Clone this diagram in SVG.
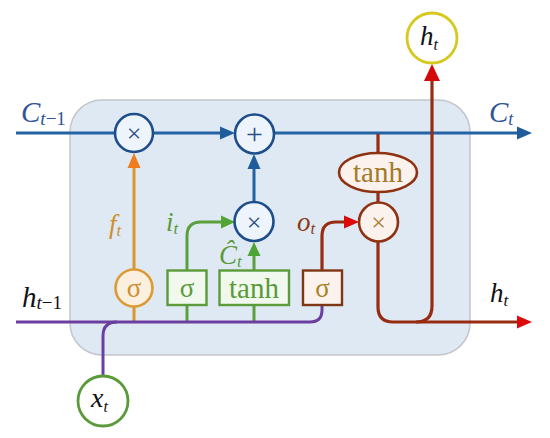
<svg xmlns="http://www.w3.org/2000/svg" width="550" height="438" viewBox="0 0 550 438">
<style>
.ctr{text-anchor:middle}
.blue{fill:none;stroke:#2363a3;stroke-width:3}
.orange{fill:none;stroke:#d9962e;stroke-width:3}
.green{fill:none;stroke:#5aa03c;stroke-width:3}
.purple{fill:none;stroke:#6c3ea0;stroke-width:3}
.brown{fill:none;stroke:#982c12;stroke-width:3.2}
.opc{stroke:#1d4d8a;stroke-width:2.6;fill:#eef4fb}
</style>
<defs>
<marker id="aBlue" markerUnits="userSpaceOnUse" markerWidth="16" markerHeight="14" refX="0" refY="7" orient="auto"><path d="M0,0.5 L15,7 L0,13.5 z" fill="#1f5c9c"/></marker>
<marker id="aOrange" markerUnits="userSpaceOnUse" markerWidth="16" markerHeight="14" refX="0" refY="7" orient="auto"><path d="M0,0.5 L15,7 L0,13.5 z" fill="#ef7d1c"/></marker>
<marker id="aGreen" markerUnits="userSpaceOnUse" markerWidth="16" markerHeight="14" refX="0" refY="7" orient="auto"><path d="M0,0.5 L14,7 L0,13.5 z" fill="#4ea534"/></marker>
<marker id="aRed" markerUnits="userSpaceOnUse" markerWidth="16" markerHeight="14" refX="0" refY="7" orient="auto"><path d="M0,0.5 L15,7 L0,13.5 z" fill="#dc0a0a"/></marker>
<marker id="aRedBig" markerUnits="userSpaceOnUse" markerWidth="18" markerHeight="18" refX="0" refY="8" orient="auto"><path d="M0,0 L17,8 L0,16 z" fill="#d40808"/></marker>
</defs>

<rect id="cell" x="70" y="100" width="400" height="255" rx="32" ry="32" fill="#dfe9f4" stroke="#c3c6cc" stroke-width="1.5"/>

<g id="connectors">
  <path class="blue" d="M16,133 L116,133" marker-end="url(#aBlue)"/>
  <path class="blue" d="M153,133 L220,133" marker-end="url(#aBlue)"/>
  <path class="blue" d="M274,133 L517,133" marker-end="url(#aBlue)"/>
  <path class="blue" d="M254,202 L254,169" marker-end="url(#aBlue)"/>
  <path class="orange" d="M134,269 L134,168" marker-end="url(#aOrange)"/>
  <path class="orange" d="M134,307 L134,322"/>
  <path class="green" d="M187,305 L187,322"/>
  <path class="green" d="M187,270 L187,236 Q187,222 201,222 L221,222" marker-end="url(#aGreen)"/>
  <path class="green" d="M254,270 L254,256" marker-end="url(#aGreen)"/>
  <path class="green" d="M254,305 L254,322"/>
  <path class="purple" d="M16,322 L310,322 Q322,322 322,310 L322,305"/>
  <path class="purple" d="M103,376 L103,336 Q103,322 117,322"/>
  <path class="brown" d="M322,270 L322,236 Q322,222 336,222 L344,222" marker-end="url(#aRed)"/>
  <path class="brown" d="M378,134 L378,153"/>
  <path class="brown" d="M378,192 L378,203"/>
  <path class="brown" d="M378,241 L378,307 Q378,322 393,322 L517,322" marker-end="url(#aRed)"/>
  <path class="brown" d="M416,322 Q432,322 432,306 L432,81" marker-end="url(#aRedBig)"/>
</g>

<g id="mul_f"><circle class="opc" cx="134" cy="133" r="19"/><text class="ctr" x="134" y="142" font-size="26" fill="#2b4f86" font-family="Liberation Serif, serif">×</text></g>
<g id="add_c"><circle class="opc" cx="254.5" cy="134" r="19.5"/><text class="ctr" x="254.5" y="143.5" font-size="30" fill="#2b4f86" font-family="Liberation Serif, serif">+</text></g>
<g id="mul_i"><circle class="opc" cx="254" cy="221.5" r="19.5"/><text class="ctr" x="254" y="230.5" font-size="26" fill="#2b4f86" font-family="Liberation Serif, serif">×</text></g>
<g id="mul_o"><circle cx="378.5" cy="222" r="19.5" fill="#fbf2ee" stroke="#8e3212" stroke-width="2.6"/><text class="ctr" x="378.5" y="231" font-size="26" fill="#b07c34" font-family="Liberation Serif, serif">×</text></g>

<g id="tanh_c"><ellipse cx="378" cy="172.5" rx="39" ry="19.5" fill="#fbf2ee" stroke="#8e3212" stroke-width="2.6"/><text class="ctr" x="378" y="181.5" font-size="29" fill="#a37a2a" font-family="Liberation Serif, serif">tanh</text></g>

<g id="sigma_f"><circle cx="134" cy="288" r="18.5" fill="#fbf0e0" stroke="#dc9b34" stroke-width="2.6"/><text class="ctr" x="134" y="296.5" font-size="27" fill="#d08e2c" font-family="Liberation Serif, serif">σ</text></g>
<g id="sigma_i"><rect x="167.5" y="270.5" width="39" height="34.5" fill="#f1f8ee" stroke="#5b9b3a" stroke-width="2.4"/><text class="ctr" x="187" y="296.5" font-size="27" fill="#5a9a3a" font-family="Liberation Serif, serif">σ</text></g>
<g id="tanh_i"><rect x="219.5" y="270.5" width="69.5" height="34.5" fill="#f1f8ee" stroke="#5b9b3a" stroke-width="2.4"/><text class="ctr" x="254" y="297.5" font-size="29" fill="#5a9a3a" font-family="Liberation Serif, serif">tanh</text></g>
<g id="sigma_o"><rect x="303" y="270.5" width="39" height="34.5" fill="#fbf2ee" stroke="#7e3614" stroke-width="2.4"/><text class="ctr" x="322.5" y="296.5" font-size="27" fill="#a88224" font-family="Liberation Serif, serif">σ</text></g>

<g id="x_t"><circle cx="103" cy="401" r="25" fill="#ffffff" stroke="#5a9a3a" stroke-width="2.8"/><text x="91" y="407" font-size="28" fill="#111" font-family="Liberation Serif, serif" font-style="italic">x<tspan font-size="16" dy="5">t</tspan></text></g>
<g id="h_t_out"><circle cx="432" cy="38" r="25" fill="#ffffff" stroke="#d6c81e" stroke-width="2.8"/><text x="420" y="45" font-size="27" fill="#111" font-family="Liberation Serif, serif" font-style="italic">h<tspan font-size="16" dy="5">t</tspan></text></g>

<g id="labels" font-family="Liberation Serif, serif" font-style="italic">
  <text x="21" y="122" font-size="29" fill="#2f5597">C<tspan font-size="19" dy="3">t</tspan><tspan font-size="19" font-style="normal">−1</tspan></text>
  <text x="489" y="122" font-size="29" fill="#2f5597">C<tspan font-size="18" dy="3">t</tspan></text>
  <text x="22" y="307" font-size="29" fill="#111">h<tspan font-size="19" dy="2">t</tspan><tspan font-size="19" font-style="normal">−1</tspan></text>
  <text x="490" y="302" font-size="27" fill="#111">h<tspan font-size="17" dy="4">t</tspan></text>
  <text x="109" y="233" font-size="27" fill="#d08e2c">f<tspan font-size="17" dy="3">t</tspan></text>
  <text x="166" y="231" font-size="27" fill="#5a9a3a">i<tspan font-size="17" dy="3">t</tspan></text>
  <text x="219" y="264" font-size="27" fill="#5a9a3a">Ĉ<tspan font-size="17" dy="3">t</tspan></text>
  <text x="297" y="231" font-size="27" fill="#8b3a14">o<tspan font-size="17" dy="3">t</tspan></text>
</g>
</svg>
